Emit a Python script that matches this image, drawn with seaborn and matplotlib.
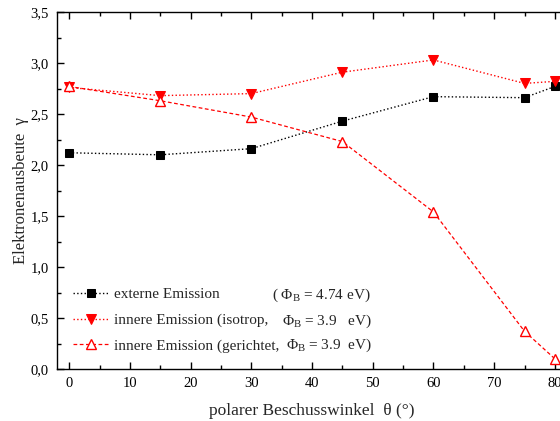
import matplotlib
matplotlib.use("Agg")
import matplotlib.pyplot as plt
from matplotlib.ticker import MultipleLocator, FuncFormatter
import seaborn as sns
import pandas as pd

# Polar incidence angle (degrees)
winkel = [0, 15, 30, 45, 60, 75, 80]
# Electron yield for the three emission models
extern = [2.12, 2.10, 2.16, 2.43, 2.67, 2.66, 2.77]
innen_isotrop = [2.76, 2.68, 2.70, 2.91, 3.03, 2.80, 2.82]
innen_gerichtet = [2.77, 2.63, 2.47, 2.23, 1.54, 0.37, 0.10]

labels = ["externe Emission",
          "innere Emission (isotrop,",
          "innere Emission (gerichtet,"]
phi_labels = ["( Φ$_\\mathrm{B}$ = 4.74 eV)",
              "Φ$_\\mathrm{B}$ = 3.9   eV)",
              "Φ$_\\mathrm{B}$ = 3.9  eV)"]

sns.set_style("ticks")
plt.rcParams["font.family"] = ["Liberation Serif", "DejaVu Serif"]
plt.rcParams["mathtext.fontset"] = "custom"
plt.rcParams["mathtext.rm"] = "Liberation Serif"
plt.rcParams["mathtext.it"] = "Liberation Serif:italic"

fig = plt.figure(figsize=(5.6, 4.21), dpi=100)
ax = fig.add_axes([57 / 560, 52 / 421, 510 / 560, 357 / 421])

df = pd.DataFrame({"w": winkel, "a": extern, "b": innen_isotrop, "c": innen_gerichtet})

sns.lineplot(data=df, x="w", y="a", ax=ax, color="black", linestyle=":", lw=1.0,
             marker="s", markersize=5.2, markeredgecolor="black", label=labels[0])
sns.lineplot(data=df, x="w", y="b", ax=ax, color="red", linestyle=":", lw=1.0,
             marker="v", markersize=7.5, markeredgecolor="red", label=labels[1])
sns.lineplot(data=df, x="w", y="c", ax=ax, color="red", linestyle=(0, (3, 2)), lw=0.9,
             marker="^", markersize=7.5, markerfacecolor="white", markeredgecolor="red",
             markeredgewidth=1.0, label=labels[2])

ax.set_xlim(-2, 82)
ax.set_ylim(0, 3.5)
ax.xaxis.set_major_locator(MultipleLocator(10))
ax.xaxis.set_minor_locator(MultipleLocator(5))
ax.yaxis.set_major_locator(MultipleLocator(0.5))
ax.yaxis.set_minor_locator(MultipleLocator(0.25))
ax.yaxis.set_major_formatter(FuncFormatter(lambda v, p: f"{v:.1f}".replace(".", ",")))
ax.tick_params(which="both", direction="in", top=True, right=False, width=1.0,
               labelsize=10.5, colors="black")
ax.tick_params(which="major", length=5, pad=6)
ax.tick_params(which="minor", length=3)
for side in ["left", "bottom", "top"]:
    ax.spines[side].set_linewidth(1.0)
    ax.spines[side].set_color("black")
ax.spines["right"].set_visible(False)

ax.set_xlabel("polarer Beschusswinkel  θ (°)", fontsize=12.5, labelpad=9)
ax.set_ylabel("Elektronenausbeute  γ", fontsize=12, labelpad=1)

leg = ax.legend(loc="lower left", bbox_to_anchor=(0.031, 0.045), frameon=False,
                borderpad=0, borderaxespad=0,
                fontsize=11, handlelength=2.4, handletextpad=0.28, labelspacing=0.78)

phi_x = [0.4215, 0.441, 0.449]
phi_y = [0.207, 0.134, 0.066]
for t, xx, yy in zip(phi_labels, phi_x, phi_y):
    ax.text(xx, yy, t, transform=ax.transAxes, fontsize=11, va="center", ha="left")

fig.savefig("out.png", dpi=100)
